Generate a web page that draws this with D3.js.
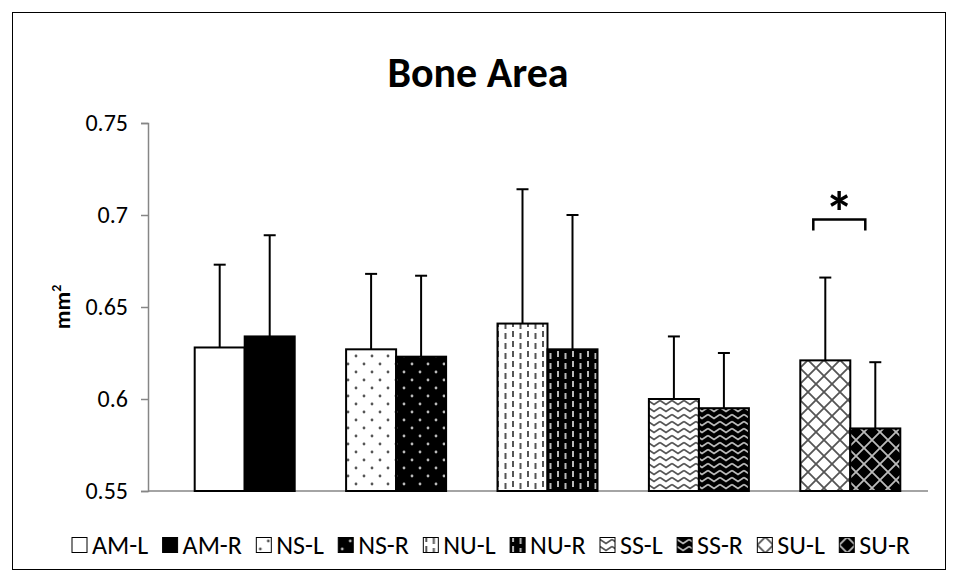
<!DOCTYPE html>
<html>
<head>
<meta charset="utf-8">
<script src="https://cdn.jsdelivr.net/npm/d3@7"></script>
<style>
  html, body { margin: 0; padding: 0; background: #fff; }
  #canvas { width: 959px; height: 578px; }
  text { font-family: Carlito, Calibri, Lato, sans-serif; }
</style>
</head>
<body>
<div id="canvas"></div>
<script>
// ----- data -----
const groups = ['AM', 'NS', 'NU', 'SS', 'SU'];
const sides = ['L', 'R'];
const meanL = [0.628, 0.627, 0.641, 0.600, 0.621];
const meanR = [0.634, 0.623, 0.627, 0.595, 0.584];
const sdL = [0.045, 0.041, 0.073, 0.034, 0.045];
const sdR = [0.055, 0.044, 0.073, 0.030, 0.036];
const yTicks = [0.55, 0.6, 0.65, 0.7, 0.75];
const legendNames = ['AM-L', 'AM-R', 'NS-L', 'NS-R', 'NU-L', 'NU-R', 'SS-L', 'SS-R', 'SU-L', 'SU-R'];

// one row per bar
const bars = [];
groups.forEach((g, i) => {
  bars.push({ group: g, side: 'L', value: meanL[i], sd: sdL[i] });
  bars.push({ group: g, side: 'R', value: meanR[i], sd: sdR[i] });
});

// ----- global constants -----
const width = 959;
const height = 578;
const axisColor = '#868686';
const font = 'Carlito, Calibri, Lato, sans-serif';

const y = d3.scaleLinear().domain([0.55, 0.75]).range([491, 123]);
const xGroup = d3.scaleBand().domain(groups).range([169, 926]);
const xSide = d3.scaleBand().domain(sides).range([-50, 50]);
const barX = d => xGroup(d.group) + xGroup.bandwidth() / 2 + xSide(d.side);
const barMid = d => barX(d) + xSide.bandwidth() / 2;

const svg = d3.select('#canvas')
  .append('svg')
  .attr('width', width)
  .attr('height', height);

// chart frame
svg.append('rect')
  .attr('x', 12.5).attr('y', 12.5)
  .attr('width', 933).attr('height', 557)
  .attr('fill', '#fff')
  .attr('stroke', '#000')
  .attr('stroke-width', 1);

// ----- fill patterns, white (L) and black (R) versions -----
const defs = svg.append('defs');

function makePattern(id, bg, fg, kind) {
  const sizes = { plain: [8, 8], dots: [16, 16], dashes: [15, 10], waves: [12, 7], cross: [16, 16] };
  const [w, h] = sizes[kind];
  const p = defs.append('pattern')
    .attr('id', id)
    .attr('patternUnits', 'userSpaceOnUse')
    .attr('width', w).attr('height', h);
  p.append('rect').attr('width', w).attr('height', h).attr('fill', bg);

  if (kind === 'dots') {
    p.append('circle').attr('cx', 4).attr('cy', 4).attr('r', 1.4).attr('fill', fg);
    p.append('circle').attr('cx', 12).attr('cy', 12).attr('r', 1.4).attr('fill', fg);
  } else if (kind === 'dashes') {
    p.append('rect').attr('x', 2).attr('y', 1).attr('width', 2).attr('height', 6).attr('fill', fg);
    p.append('rect').attr('x', 9.5).attr('y', 3).attr('width', 2).attr('height', 6).attr('fill', fg);
  } else if (kind === 'waves') {
    p.append('path').attr('d', 'M0,1.5 L6,5.5 L12,1.5')
      .attr('fill', 'none').attr('stroke', fg).attr('stroke-width', 1.8);
  } else if (kind === 'cross') {
    p.append('path').attr('d', 'M0,0 L16,16 M16,0 L0,16')
      .attr('fill', 'none').attr('stroke', fg).attr('stroke-width', 1.8);
  }
}

const kinds = { AM: 'plain', NS: 'dots', NU: 'dashes', SS: 'waves', SU: 'cross' };
groups.forEach(g => {
  makePattern(`p-${g}-L`, '#fff', '#555', kinds[g]);
  makePattern(`p-${g}-R`, '#000', '#bbb', kinds[g]);
});
const fillOf = d => `url(#p-${d.group}-${d.side})`;

// ----- title -----
svg.append('text')
  .attr('x', 478).attr('y', 87)
  .attr('text-anchor', 'middle')
  .style('font-size', '42px')
  .style('font-weight', 'bold')
  .text('Bone Area');

// ----- axes -----
const yAxis = svg.append('g')
  .attr('transform', `translate(148,0)`)
  .call(d3.axisLeft(y).tickValues(yTicks).tickFormat(d3.format('')).tickSize(7).tickPadding(13));
yAxis.select('.domain').attr('stroke', axisColor).attr('stroke-width', 1.5);
yAxis.selectAll('.tick line').attr('stroke', axisColor).attr('stroke-width', 1.5);
yAxis.selectAll('.tick text')
  .attr('fill', '#000')
  .style('font-size', '24px')
  .style('font-family', font);

// x axis line, no ticks
svg.append('line')
  .attr('x1', 148).attr('x2', 928)
  .attr('y1', y(0.55)).attr('y2', y(0.55))
  .attr('stroke', axisColor).attr('stroke-width', 1.5);

// y axis title
const yLabel = svg.append('text')
  .attr('transform', `translate(70,${y(0.65)}) rotate(-90)`)
  .attr('text-anchor', 'middle')
  .style('font-size', '23px')
  .style('font-weight', 'bold')
  .text('mm');
yLabel.append('tspan')
  .attr('dy', -9)
  .style('font-size', '14px')
  .text('2');

// ----- error bars (up only), drawn under the bars -----
const err = svg.append('g')
  .selectAll('g')
  .data(bars)
  .join('g');

err.append('line')
  .attr('x1', barMid).attr('x2', barMid)
  .attr('y1', d => y(d.value))
  .attr('y2', d => y(d.value + d.sd))
  .attr('stroke', '#000').attr('stroke-width', 2);

err.append('line')
  .attr('x1', d => barMid(d) - 6)
  .attr('x2', d => barMid(d) + 6)
  .attr('y1', d => y(d.value + d.sd))
  .attr('y2', d => y(d.value + d.sd))
  .attr('stroke', '#000').attr('stroke-width', 2);

// ----- bars -----
svg.append('g')
  .selectAll('rect')
  .data(bars)
  .join('rect')
  .attr('x', d => barX(d))
  .attr('y', d => y(d.value))
  .attr('width', xSide.bandwidth())
  .attr('height', d => y(0.55) - y(d.value))
  .attr('fill', fillOf)
  .attr('stroke', '#000')
  .attr('stroke-width', 2);

// ----- significance bracket over SU -----
const su = bars.filter(d => d.group === 'SU');
const bx0 = barMid(su[0]) - 12;
const bx1 = barMid(su[1]) - 10;
const by = y(0.6975);
svg.append('path')
  .attr('d', `M${bx0},${by + 11} L${bx0},${by} L${bx1},${by} L${bx1},${by + 11}`)
  .attr('fill', 'none')
  .attr('stroke', '#000')
  .attr('stroke-width', 2.5);
svg.append('text')
  .attr('x', (bx0 + bx1) / 2)
  .attr('y', by + 13)
  .attr('text-anchor', 'middle')
  .style('font-size', '58px')
  .style('font-weight', 'bold')
  .text('*');

// ----- legend -----
const legend = svg.append('g').attr('transform', 'translate(0,545)');
const items = legend.selectAll('g')
  .data(legendNames)
  .join('g');

items.append('rect')
  .attr('y', -7.5).attr('width', 15).attr('height', 15)
  .attr('fill', (d, i) => `url(#p-${groups[Math.floor(i / 2)]}-${sides[i % 2]})`)
  .attr('stroke', '#000').attr('stroke-width', 1);

items.append('text')
  .attr('x', 20)
  .attr('dy', '0.36em')
  .style('font-size', '26px')
  .text(d => d);

// spread the items evenly between the legend's two ends
const legendLeft = 72, legendRight = 910;
const widths = [];
items.each(function () { widths.push(this.getBBox().width); });
const gap = (legendRight - legendLeft - d3.sum(widths)) / (widths.length - 1);
let cursor = legendLeft;
const offsets = widths.map(w => { const o = cursor; cursor += w + gap; return o; });
items.attr('transform', (d, i) => `translate(${offsets[i]},0)`);
</script>
</body>
</html>
